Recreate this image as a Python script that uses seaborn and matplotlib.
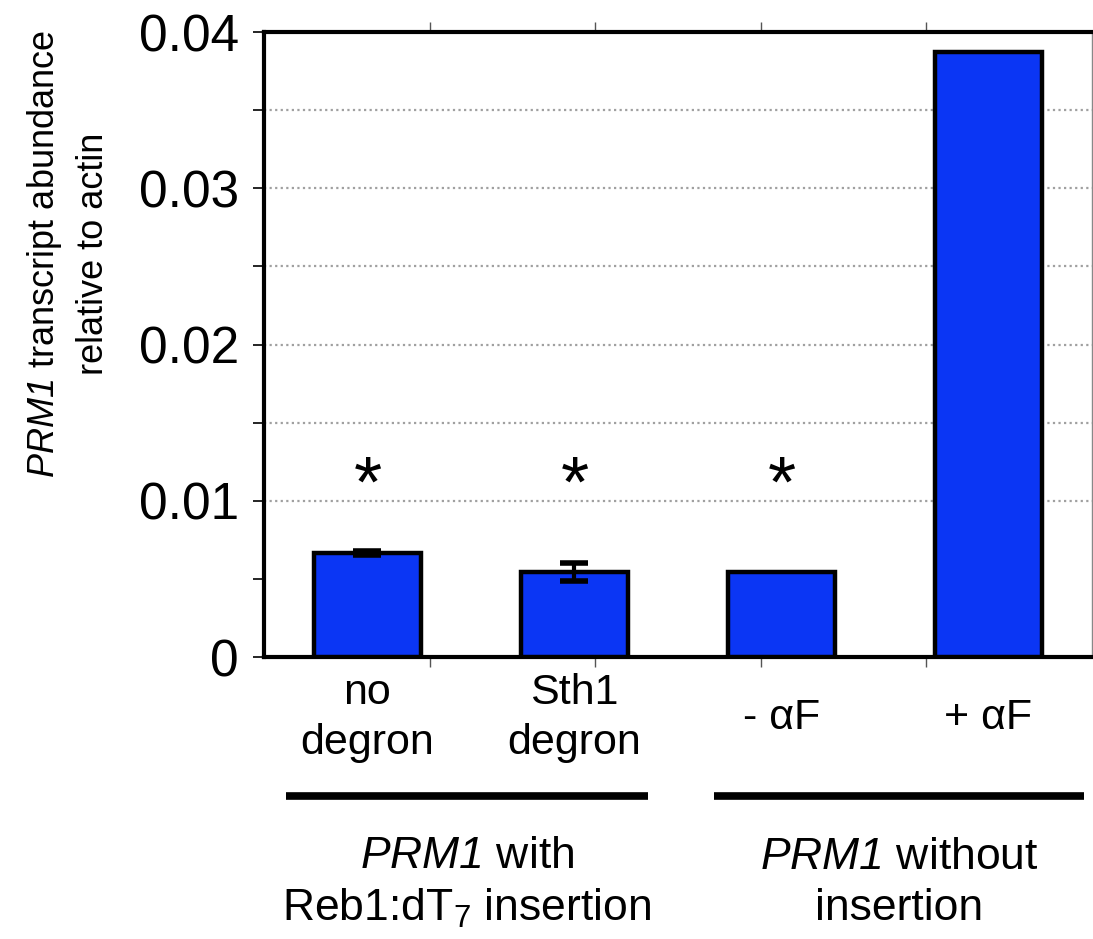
import matplotlib
matplotlib.use("Agg")
import matplotlib.pyplot as plt
import matplotlib.transforms as mtransforms
from matplotlib.ticker import FixedLocator, FuncFormatter
import seaborn as sns
import numpy as np

# --- data -------------------------------------------------------------
categories = ["no\ndegron", "Sth1\ndegron", "- \u03b1F", "+ \u03b1F"]
abundance = [0.00666, 0.00544, 0.00544, 0.03872]
abundance_err = [0.00015, 0.0006, 0.0, 0.0]
significant = [True, True, True, False]
yticks_major = [0, 0.01, 0.02, 0.03, 0.04]
group_labels = ["$\\mathsf{PRM1}$ with\nReb1:dT$_{7}$ insertion",
                "$\\mathsf{PRM1}$ without\ninsertion"]
group_spans = [(-0.394, 1.355), (1.674, 3.461)]
ylabel = "$\\mathsf{PRM1}$ transcript abundance\nrelative to actin"

# --- style ------------------------------------------------------------
sns.set_theme(style="white")
plt.rcParams["font.family"] = ["Liberation Sans", "DejaVu Sans"]
plt.rcParams["mathtext.fontset"] = "custom"
plt.rcParams["mathtext.rm"] = "Liberation Sans"
plt.rcParams["mathtext.it"] = "Liberation Sans:italic"
# gene names are set in italic, digits included
plt.rcParams["mathtext.sf"] = "Liberation Sans:italic"
plt.rcParams["mathtext.default"] = "regular"

bar_color = "#0b36f4"

fig = plt.figure(figsize=(10.93, 9.39), dpi=100)
ax = fig.add_axes([0.2415, 0.3003, 0.7575, 0.6656])

sns.barplot(x=categories, y=abundance, color=bar_color, saturation=1,
            edgecolor="black", linewidth=3.2, width=0.517, errorbar=None,
            ax=ax, zorder=3)

xs = np.arange(len(categories))
err = np.array(abundance_err)
has_err = err > 0
ax.errorbar(xs[has_err], np.array(abundance)[has_err], yerr=err[has_err],
            fmt="none", ecolor="black", elinewidth=3, capsize=10, capthick=4,
            zorder=4)

# dotted horizontal gridlines
for lvl in [0.01, 0.015, 0.02, 0.025, 0.03, 0.035]:
    ax.axhline(lvl, color="#a0a0a0", linestyle=(0, (1, 1.5)), linewidth=1.6,
               zorder=1)

ax.set_xlim(-0.5, 3.5)
ax.set_ylim(0, 0.04)

ax.yaxis.set_major_locator(FixedLocator(yticks_major))
ax.yaxis.set_minor_locator(FixedLocator(np.arange(0.005, 0.04, 0.01)))
ax.yaxis.set_major_formatter(FuncFormatter(lambda v, p: "0" if v == 0 else f"{v:.2f}"))
ax.tick_params(axis="y", which="both", direction="out", length=8, width=1.2,
               left=True, labelsize=37, pad=10, colors="black")

ax.xaxis.set_minor_locator(FixedLocator([-0.5 + 0.8 * k for k in range(1, 5)]))
ax.tick_params(axis="x", which="minor", direction="out", length=7, width=1,
               bottom=True, top=True, color="#555555")
ax.tick_params(axis="x", which="major", length=0, labelsize=31, pad=44,
               labelcolor="black")
for lbl in ax.get_xticklabels():
    lbl.set_va("center")
    lbl.set_linespacing(1.3)
ax.set_xlabel("")

ax.set_ylabel(ylabel, fontsize=26, linespacing=1.45, color="black")
ax.yaxis.set_label_coords(-0.185, 0.645)

for side in ["left", "bottom", "top"]:
    ax.spines[side].set_visible(True)
    ax.spines[side].set_color("black")
    ax.spines[side].set_linewidth(3)
ax.spines["right"].set_color("#888888")
ax.spines["right"].set_linewidth(1)

# significance markers
for x, y, s in zip(xs, abundance, significant):
    if s:
        ax.text(x, 0.0108, "*", ha="center", va="center", fontsize=52,
                color="black", zorder=5)

# group brackets and labels under the axis
trans = mtransforms.blended_transform_factory(ax.transData, ax.transAxes)
for (x0, x1), label in zip(group_spans, group_labels):
    ax.plot([x0, x1], [-0.2222, -0.2222], transform=trans, color="black",
            linewidth=5.5, solid_capstyle="butt", clip_on=False)
    ax.text((x0 + x1) / 2, -0.3616, label, transform=trans, ha="center",
            va="center", fontsize=32, linespacing=1.3, color="black")

fig.savefig("out.png", dpi=100, facecolor="white")
